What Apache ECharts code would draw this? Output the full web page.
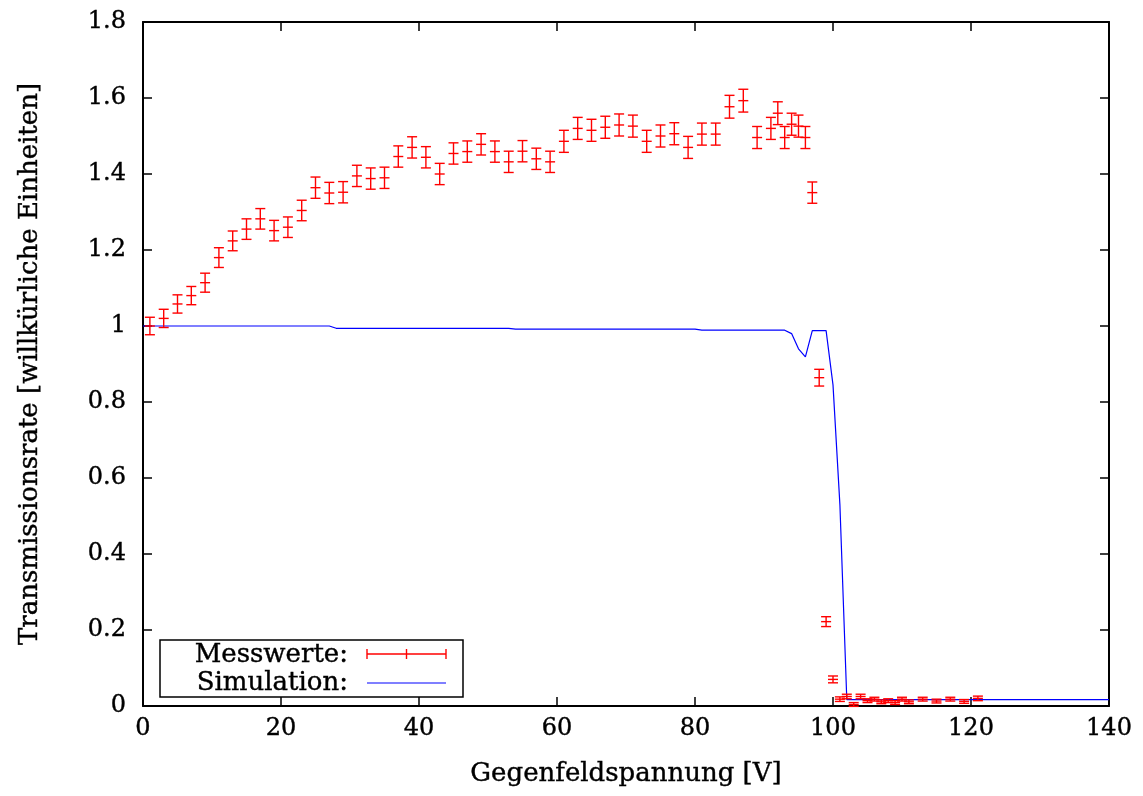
<!DOCTYPE html>
<html>
<head>
<meta charset="utf-8">
<script src="https://cdn.jsdelivr.net/npm/echarts@6/dist/echarts.min.js"></script>
<style>
html, body { margin: 0; padding: 0; background: #fff; }
#main { width: 1143px; height: 796px; }
</style>
</head>
<body>
<div id="main"></div>
<script>
// Messwerte (Gegenfeldspannung in V, Transmissionsrate, Fehler)
var measX = [1, 3, 5, 7, 9, 11, 13, 15, 17, 19, 21, 23, 25, 27, 29, 31, 33, 35, 37, 39,
	41, 43, 45, 47, 49, 51, 53, 55, 57, 59, 61, 63, 65, 67, 69, 71, 73, 75, 77, 79,
	81, 83, 85, 87, 89, 91, 92, 93, 94, 95, 96, 97, 98, 99, 100, 101, 102, 103, 104, 105,
	106, 107, 108, 109, 110, 111, 113, 115, 117, 119, 121];
var measY = [1.00, 1.02, 1.058, 1.08, 1.114, 1.18, 1.224, 1.255, 1.282, 1.251, 1.26, 1.304, 1.364, 1.35, 1.352, 1.395, 1.388, 1.39, 1.446, 1.47,
	1.444, 1.40, 1.454, 1.459, 1.478, 1.459, 1.432, 1.46, 1.44, 1.432, 1.486, 1.52, 1.515, 1.523, 1.529, 1.526, 1.486, 1.50, 1.506, 1.47,
	1.505, 1.505, 1.577, 1.593, 1.496, 1.52, 1.56, 1.496, 1.531, 1.526, 1.496, 1.351, 0.864, 0.222, 0.07, 0.018, 0.025, 0.004, 0.025, 0.014,
	0.018, 0.011, 0.014, 0.009, 0.018, 0.011, 0.018, 0.013, 0.018, 0.012, 0.02];
var measErr = [0.023, 0.024, 0.024, 0.024, 0.025, 0.026, 0.026, 0.027, 0.027, 0.027, 0.027, 0.027, 0.028, 0.028, 0.028, 0.028, 0.028, 0.028, 0.028, 0.028,
	0.028, 0.028, 0.028, 0.028, 0.028, 0.028, 0.028, 0.028, 0.028, 0.028, 0.029, 0.029, 0.029, 0.029, 0.029, 0.029, 0.029, 0.029, 0.029, 0.029,
	0.029, 0.029, 0.03, 0.03, 0.029, 0.029, 0.03, 0.029, 0.029, 0.029, 0.029, 0.028, 0.022, 0.013, 0.009, 0.006, 0.006, 0.005, 0.006, 0.005,
	0.005, 0.005, 0.005, 0.005, 0.005, 0.005, 0.005, 0.005, 0.005, 0.005, 0.006];

// Simulation
var simX = [0, 27, 28, 53, 54, 80, 81, 93, 94, 95, 96, 97, 99, 100, 101, 102, 140];
var simY = [1.0, 1.0, 0.994, 0.994, 0.992, 0.992, 0.989, 0.989, 0.98, 0.94, 0.919, 0.988, 0.988, 0.845, 0.53, 0.017, 0.017];

var xTitle = 'Gegenfeldspannung [V]';
var yTitle = 'Transmissionsrate [willkürliche Einheiten]';
var legendNames = ['Messwerte:', 'Simulation:'];

var FONT = 'DejaVu Serif';

var measData = measX.map(function (x, i) { return [x, measY[i], measErr[i]]; });
var simData = simX.map(function (x, i) { return [x, simY[i]]; });

var myChart = echarts.init(document.getElementById('main'));

function errorBar(params, api) {
	var x = api.value(0), y = api.value(1), e = api.value(2);
	var lo = api.coord([x, y - e]);
	var hi = api.coord([x, y + e]);
	var c = api.coord([x, y]);
	var w = 5;
	var st = { stroke: '#ff0000', lineWidth: 1.4 };
	return {
		type: 'group',
		children: [
			{ type: 'line', shape: { x1: lo[0], y1: lo[1], x2: hi[0], y2: hi[1] }, style: st },
			{ type: 'line', shape: { x1: lo[0] - w, y1: lo[1], x2: lo[0] + w, y2: lo[1] }, style: st },
			{ type: 'line', shape: { x1: hi[0] - w, y1: hi[1], x2: hi[0] + w, y2: hi[1] }, style: st },
			{ type: 'line', shape: { x1: c[0] - w, y1: c[1], x2: c[0] + w, y2: c[1] }, style: st }
		]
	};
}

// etwas kräftigere Schrift, wie im LaTeX-Original
var txt = { color: '#000', fontFamily: FONT, textBorderColor: '#000', textBorderWidth: 0.4 };
var axisLine = { show: true, onZero: false, lineStyle: { color: '#000', width: 2 } };
var axisTick = { show: true, inside: true, length: 9, lineStyle: { color: '#000', width: 1.5 } };

var option = {
	animation: false,
	backgroundColor: '#fff',
	grid: { left: 143, top: 22, width: 966, height: 684 },
	xAxis: [{
		type: 'value', min: 0, max: 140, interval: 20, position: 'bottom',
		axisLine: axisLine, axisTick: axisTick, splitLine: { show: false },
		axisLabel: Object.assign({ fontSize: 24, margin: 11 }, txt),
		name: xTitle, nameLocation: 'middle', nameGap: 55,
		nameTextStyle: Object.assign({ fontSize: 26 }, txt)
	}, {
		type: 'value', min: 0, max: 140, interval: 20, position: 'top',
		axisLine: axisLine, axisTick: axisTick, splitLine: { show: false },
		axisLabel: { show: false }
	}],
	yAxis: [{
		type: 'value', min: 0, max: 1.8, interval: 0.2, position: 'left',
		axisLine: axisLine, axisTick: axisTick, splitLine: { show: false },
		axisLabel: Object.assign({
			fontSize: 24, margin: 17,
			formatter: function (v) { return String(Math.round(v * 10) / 10); }
		}, txt),
		name: yTitle, nameLocation: 'middle', nameGap: 100,
		nameTextStyle: Object.assign({ fontSize: 26 }, txt)
	}, {
		type: 'value', min: 0, max: 1.8, interval: 0.2, position: 'right',
		axisLine: axisLine, axisTick: axisTick, splitLine: { show: false },
		axisLabel: { show: false }
	}],
	series: [{
		name: legendNames[1],
		type: 'line',
		data: simData,
		showSymbol: false,
		lineStyle: { color: '#0000ff', width: 1.2 },
		z: 2
	}, {
		name: legendNames[0],
		type: 'custom',
		renderItem: errorBar,
		data: measData,
		encode: { x: 0, y: 1 },
		z: 3
	}],
	graphic: [
		{ type: 'rect', shape: { x: 160, y: 640, width: 303, height: 57 }, style: { fill: '#fff', stroke: '#000', lineWidth: 1.5 }, z: 10 },
		{ type: 'text', x: 348, y: 655, style: { text: legendNames[0], font: '26px "DejaVu Serif"', fill: '#000', stroke: '#000', lineWidth: 0.4, align: 'right', verticalAlign: 'middle' }, z: 11 },
		{ type: 'text', x: 348, y: 683, style: { text: legendNames[1], font: '26px "DejaVu Serif"', fill: '#000', stroke: '#000', lineWidth: 0.4, align: 'right', verticalAlign: 'middle' }, z: 11 },
		{ type: 'line', shape: { x1: 367, y1: 654, x2: 446, y2: 654 }, style: { stroke: '#ff0000', lineWidth: 1.4 }, z: 11 },
		{ type: 'line', shape: { x1: 367, y1: 649, x2: 367, y2: 659 }, style: { stroke: '#ff0000', lineWidth: 1.4 }, z: 11 },
		{ type: 'line', shape: { x1: 406.5, y1: 649, x2: 406.5, y2: 659 }, style: { stroke: '#ff0000', lineWidth: 1.4 }, z: 11 },
		{ type: 'line', shape: { x1: 446, y1: 649, x2: 446, y2: 659 }, style: { stroke: '#ff0000', lineWidth: 1.4 }, z: 11 },
		{ type: 'line', shape: { x1: 367, y1: 683, x2: 446, y2: 683 }, style: { stroke: '#0000ff', lineWidth: 1.2 }, z: 11 }
	]
};

myChart.setOption(option);
</script>
</body>
</html>
